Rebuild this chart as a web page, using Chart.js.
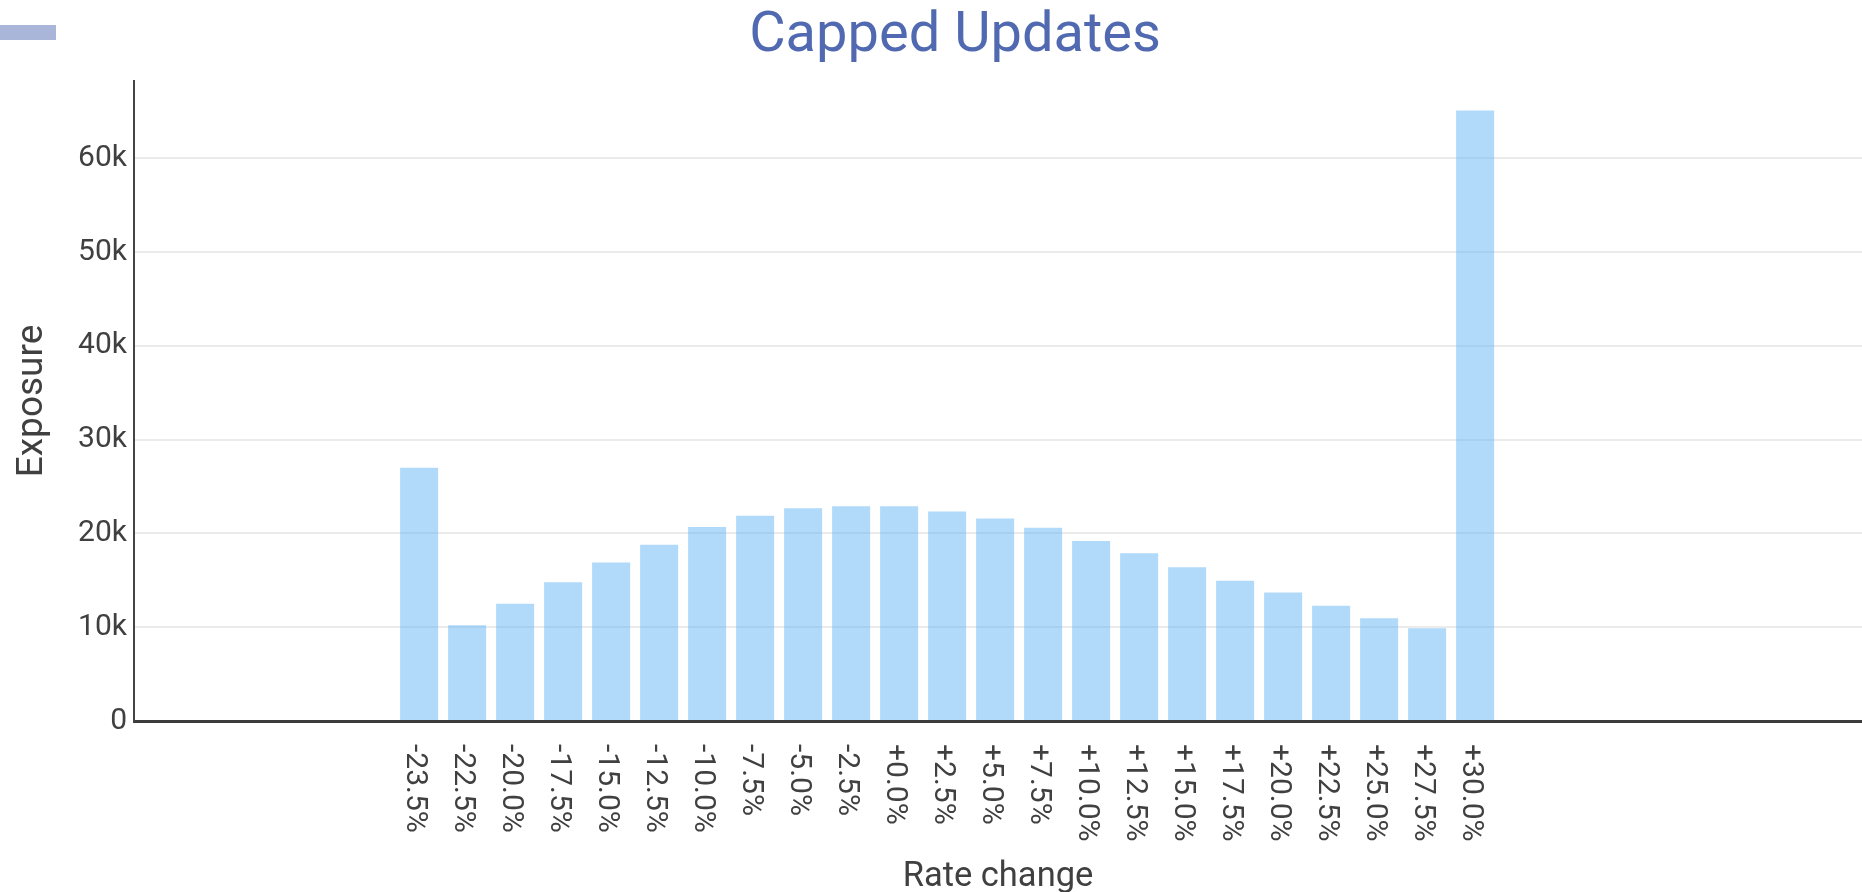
<!DOCTYPE html>
<html>
<head>
<meta charset="utf-8">
<script src="https://cdn.jsdelivr.net/npm/chart.js@4.4.1/dist/chart.umd.min.js"></script>
<style>
  html, body { margin: 0; padding: 0; background: #ffffff; overflow: hidden; }
  #wrap { position: relative; width: 1862px; height: 892px; }
  #legendBox { position: absolute; left: 0; top: 25px; width: 56px; height: 15px; background: #aab6d9; }
</style>
</head>
<body>
<div id="wrap"><canvas id="c"></canvas><div id="legendBox"></div></div>
<script>
// ---- data ----
const categories = ['-23.5%', '-22.5%', '-20.0%', '-17.5%', '-15.0%', '-12.5%', '-10.0%', '-7.5%', '-5.0%', '-2.5%',
                    '+0.0%', '+2.5%', '+5.0%', '+7.5%', '+10.0%', '+12.5%', '+15.0%', '+17.5%', '+20.0%', '+22.5%',
                    '+25.0%', '+27.5%', '+30.0%'];
const exposure = [27000, 10200, 12500, 14800, 16900, 18800, 20700, 21900, 22700, 22900,
                  22900, 22350, 21600, 20600, 19200, 17900, 16400, 14950, 13700, 12300,
                  10950, 9900, 65100];
const yTickValues = [0, 10000, 20000, 30000, 40000, 50000, 60000];
const yTickLabels = ['0', '10k', '20k', '30k', '40k', '50k', '60k'];
const xRange = [-5.94, 30.06];
const yMaxValue = 68250;

// ---- plugins ----
const xLabelPlugin = {
  id: 'xLabels',
  afterDraw(chart) {
    const ctx = chart.ctx;
    const xs = chart.scales.x;
    ctx.save();
    ctx.font = '30px Roboto';
    ctx.fillStyle = '#404040';
    ctx.textAlign = 'left';
    ctx.textBaseline = 'middle';
    categories.forEach((lab, i) => {
      const px = xs.getPixelForValue(i) - 5;
      const py = chart.chartArea.bottom + 23;
      ctx.save();
      ctx.translate(px, py);
      ctx.rotate(Math.PI / 2);
      ctx.fillText(lab, 0, 0);
      ctx.restore();
    });
    ctx.restore();
  }
};
const titleShift = {
  id: 'titleShift',
  afterLayout(chart) {
    const t = chart.titleBlock;
    if (t) { const c = 955; t.right = t.left + 2 * (c - t.left); }
  }
};

new Chart(document.getElementById('c'), {
  type: 'bar',
  data: {
    datasets: [{
      label: 'Exposure',
      data: categories.map((c, i) => ({ x: i, y: exposure[i] })),
      backgroundColor: 'rgba(100,181,246,0.5)',
      borderWidth: 0,
      barPercentage: 0.99,
      categoryPercentage: 0.8
    }]
  },
  options: {
    responsive: true,
    maintainAspectRatio: false,
    animation: false,
    layout: { padding: 0 },
    plugins: {
      legend: { display: false },
      tooltip: { enabled: false },
      title: {
        display: true,
        text: 'Capped Updates',
        color: '#5069b1',
        font: { family: 'Roboto', size: 56, weight: 'normal', lineHeight: 1.0 },
        padding: { top: 9, bottom: 16 }
      }
    },
    scales: {
      x: {
        type: 'linear',
        min: xRange[0],
        max: xRange[1],
        offset: false,
        grid: { display: false, drawTicks: false },
        border: { display: true, color: '#3c3c3c', width: 3 },
        ticks: { display: false },
        title: {
          display: true, text: 'Rate change', color: '#404040',
          font: { family: 'Roboto', size: 34.5, weight: 'normal', lineHeight: 1.2 },
          padding: { top: 0, bottom: -6 }
        },
        afterFit: s => { s.height = 892 - 721; }
      },
      y: {
        min: 0,
        max: yMaxValue,
        grid: { color: '#ebebeb', lineWidth: 2, drawTicks: false },
        border: { display: true, color: '#444444', width: 2 },
        afterBuildTicks: s => { s.ticks = yTickValues.map(v => ({ value: v })); },
        ticks: {
          padding: 7,
          color: '#404040',
          font: { family: 'Roboto', size: 30, weight: 'normal' },
          callback: v => yTickLabels[yTickValues.indexOf(v)]
        },
        title: {
          display: true, text: 'Exposure', color: '#404040',
          font: { family: 'Roboto', size: 37, weight: 'normal', lineHeight: 1.2 },
          padding: { top: 11, bottom: 0 }
        },
        afterFit: s => { s.width = 134; }
      }
    }
  },
  plugins: [xLabelPlugin, titleShift]
});
</script>
</body>
</html>
